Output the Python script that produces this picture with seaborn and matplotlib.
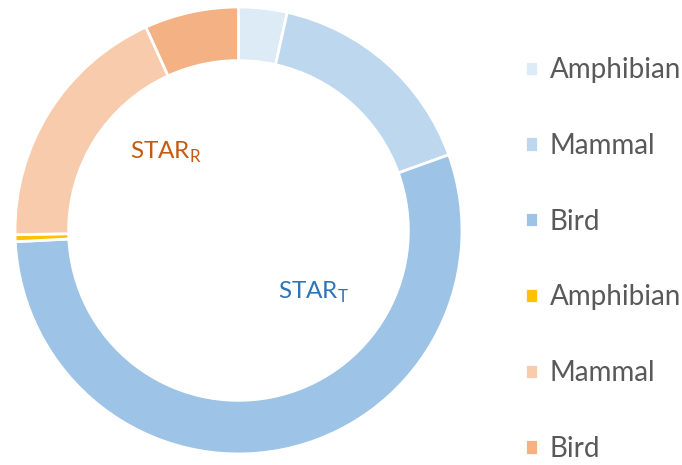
import matplotlib
matplotlib.use("Agg")
import matplotlib.pyplot as plt
import seaborn as sns

# Donut slice shares (%), clockwise from 12 o'clock
labels = ["Amphibian", "Mammal", "Bird", "Amphibian", "Mammal", "Bird"]
shares = [3.5, 16.0, 54.7, 0.5, 18.5, 6.8]
colors = ["#DDEBF7", "#BDD7EE", "#9DC3E6", "#FFC000", "#F8CBAD", "#F4B183"]

sns.set_theme(style="white")
plt.rcParams["font.family"] = ["Lato", "DejaVu Sans"]
plt.rcParams["mathtext.fontset"] = "custom"
plt.rcParams["mathtext.rm"] = "Lato"

fig = plt.figure(figsize=(6.82, 4.65), dpi=100)
ax = fig.add_axes([0.022, 0.0237, 0.6554, 0.9613])

wedges, _ = ax.pie(shares, colors=colors, startangle=90, counterclock=False,
                   radius=1.0,
                   wedgeprops=dict(width=0.24, edgecolor="white", linewidth=2))
ax.set_xlim(-1, 1)
ax.set_ylim(-1, 1)
ax.axis("off")

# group labels inside the ring
ax.text(-0.485, 0.351, r"STAR$_\mathregular{R}$", color="#C55A11", fontsize=17.5,
        ha="left", va="center")
ax.text(0.177, -0.275, r"STAR$_\mathregular{T}$", color="#2E75B6", fontsize=17.5,
        ha="left", va="center")

leg = fig.legend(wedges, labels, loc="upper left", bbox_to_anchor=(0.754, 0.901),
                 frameon=False, fontsize=20, labelspacing=1.79,
                 handlelength=0.47, handleheight=0.47, handletextpad=0.4,
                 borderaxespad=0)
for t in leg.get_texts():
    t.set_color("#595959")

fig.savefig("out.png", dpi=100)
